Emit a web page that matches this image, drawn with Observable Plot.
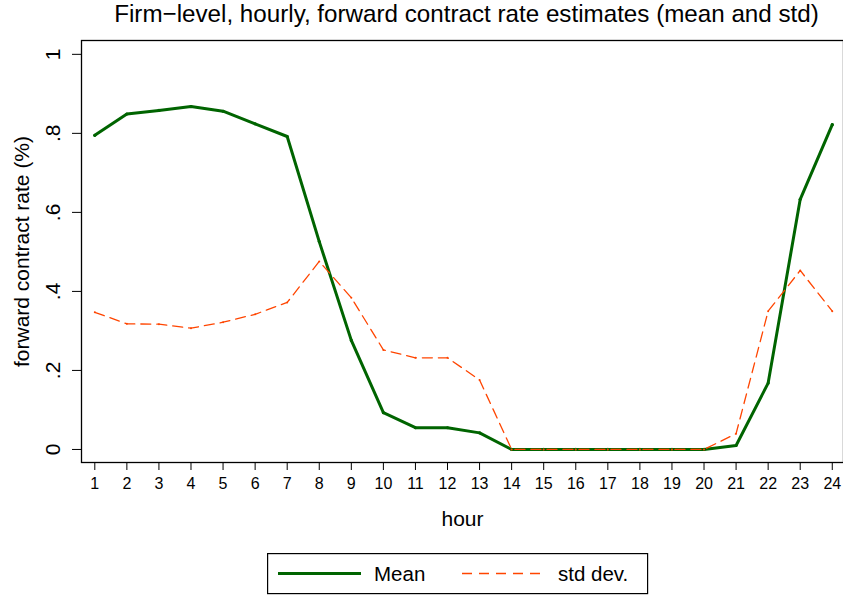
<!DOCTYPE html>
<html>
<head>
<meta charset="utf-8">
<script src="https://cdn.jsdelivr.net/npm/d3@7"></script>
<script src="https://cdn.jsdelivr.net/npm/@observablehq/plot@0.6"></script>
<style>
  body { margin: 0; background: #fff; font-family: "Liberation Sans", Arial, sans-serif; }
  #title { height: 30px; line-height: 28px; font-size: 24.2px; text-align: center; padding-left: 90px; color: #000; white-space: nowrap; }
  #legend { margin: 3px 0 0 267px; line-height: 0; }
</style>
</head>
<body>
<div id="title">Firm−level, hourly, forward contract rate estimates (mean and std)</div>
<div id="chart"></div>
<div id="legend"></div>
<script>
// horas del día y estimaciones
const hours = [1, 2, 3, 4, 5, 6, 7, 8, 9, 10, 11, 12, 13, 14, 15, 16, 17, 18, 19, 20, 21, 22, 23, 24]
const meanRate = [0.795, 0.849, 0.858, 0.868, 0.856, 0.824, 0.792, 0.526, 0.276, 0.093, 0.055, 0.055,
  0.042, 0, 0, 0, 0, 0, 0, 0, 0.010, 0.168, 0.633, 0.822]
const stdRate = [0.347, 0.318, 0.317, 0.307, 0.322, 0.342, 0.372, 0.476, 0.384, 0.252, 0.232, 0.232,
  0.176, 0, 0, 0, 0, 0, 0, 0, 0.040, 0.350, 0.453, 0.350]
const yTicks = [0, 0.2, 0.4, 0.6, 0.8, 1]
const yTickLabels = ['0', '.2', '.4', '.6', '.8', '1']

const green = '#006400'
const orange = '#ff4500'

const rows = hours.map((h, i) => ({ hour: h, mean: meanRate[i], std: stdRate[i] }))

let chart = Plot.plot({
  width: 843,
  height: 520,
  marginLeft: 81,
  marginRight: 0,
  marginTop: 10,
  marginBottom: 88,
  style: { fontFamily: '"Liberation Sans", Arial, sans-serif', background: '#fff', color: '#000' },
  x: { domain: [0.585, 24.35] },
  y: { domain: [-0.033, 1.035] },
  marks: [
    Plot.frame({ stroke: '#000', strokeWidth: 1.3 }),
    Plot.axisY(yTicks, { tickSize: 9, tickFormat: () => '', label: null }),
    // etiquetas del eje y giradas, como en Stata
    Plot.text(yTicks, {
      y: d => d, text: (d, i) => yTickLabels[i], frameAnchor: 'left', textAnchor: 'middle',
      dx: -28, rotate: -90, fontSize: 21,
    }),
    Plot.axisX(hours, { tickSize: 8, tickPadding: 7, fontSize: 16, label: null }),
    Plot.text(['forward contract rate (%)'], {
      frameAnchor: 'left', textAnchor: 'middle', dx: -59, rotate: -90, fontSize: 21,
    }),
    Plot.text(['hour'], { frameAnchor: 'bottom', dy: 63, fontSize: 21 }),
    Plot.line(rows, { x: 'hour', y: 'mean', stroke: green, strokeWidth: 3 }),
    Plot.dot(rows, { x: 'hour', y: 'mean', r: 1.6, fill: green }),
    Plot.line(rows, { x: 'hour', y: 'std', stroke: orange, strokeWidth: 1.3, strokeDasharray: '10,6' }),
    Plot.dot(rows, { x: 'hour', y: 'std', r: 1, fill: orange }),
  ],
})
d3.select('#chart').append(() => chart)

// leyenda debajo del svg
const leg = d3.select('#legend').append('svg').attr('width', 382).attr('height', 42)
  .style('font-family', '"Liberation Sans", Arial, sans-serif')
leg.append('rect').attr('x', 0.6).attr('y', 0.6).attr('width', 380).attr('height', 40)
  .attr('fill', '#fff').attr('stroke', '#000').attr('stroke-width', 1.2)
leg.append('line').attr('x1', 11).attr('x2', 94).attr('y1', 20.5).attr('y2', 20.5)
  .attr('stroke', green).attr('stroke-width', 3)
leg.append('text').attr('x', 107).attr('y', 21).attr('dy', '0.35em').attr('font-size', 20.5).text('Mean')
leg.append('line').attr('x1', 195).attr('x2', 277).attr('y1', 20.5).attr('y2', 20.5)
  .attr('stroke', orange).attr('stroke-width', 1.3).attr('stroke-dasharray', '10,7')
leg.append('text').attr('x', 291).attr('y', 21).attr('dy', '0.35em').attr('font-size', 20.5).text('std dev.')
</script>
</body>
</html>
